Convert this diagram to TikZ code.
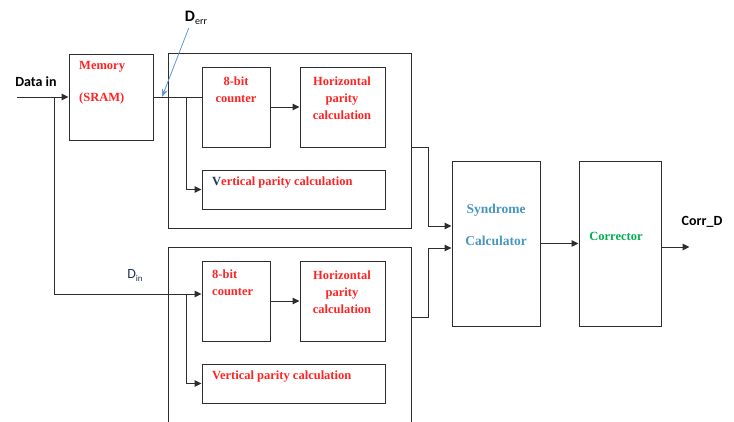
\documentclass[tikz,border=0pt]{standalone}
\usepackage{fontspec}
\setmainfont{Carlito}
\newfontfamily\boxfont{Liberation Serif}
\usetikzlibrary{arrows.meta,positioning,calc}
\definecolor{cline}{RGB}{45,45,45}
\definecolor{cred}{RGB}{255,35,35}
\definecolor{csyn}{RGB}{70,150,190}
\definecolor{ccor}{RGB}{0,176,80}
\definecolor{cerr}{RGB}{95,150,215}
\definecolor{cdin}{RGB}{35,50,80}
\definecolor{cnavy}{RGB}{31,56,100}

\begin{document}
\begin{tikzpicture}[x=1pt,y=-1pt,
    blk/.style={draw=cline,line width=1pt,inner sep=0pt},
    wire/.style={draw=cline,line width=1pt},
    arr/.style={wire,-{Triangle[length=7pt,width=6.5pt]}},
    rtxt/.style={font=\boxfont\bfseries\fontsize{12.5}{17}\selectfont,text=cred,align=center,inner sep=0pt},
    lbl/.style={font=\fontsize{14}{16}\selectfont\bfseries,inner sep=0pt}]
  \useasboundingbox (0,0) rectangle (734,421);

  % blocks
  \node[blk,minimum width=84,minimum height=86] (mem) at (111,97) {};
  \node[blk,minimum width=88,minimum height=165] (syn) at (496,243.5) {};
  \node[blk,minimum width=82,minimum height=165] (cor) at (620,243.5) {};
  \foreach \i/\y in {1/0,2/194}{
    \node[blk,minimum width=243,minimum height=175] (big\i) at (289.5,140.5+\y) {};
    \node[blk,minimum width=68,minimum height=80] (cnt\i) at (236,107+\y) {};
    \node[blk,minimum width=85,minimum height=80] (hor\i) at (342.5,107+\y) {};
    \node[blk,minimum width=183,minimum height=39] (ver\i) at (293.5,189.5+\y) {};
    \node[rtxt] at (342,98+\y) {Horizontal\\parity\\calculation};
    \draw[arr] (cnt\i.east) -- (hor\i.west);
  }

  % texts in blocks
  \node[rtxt,anchor=west] at (79,67) {Memory};
  \node[rtxt,anchor=west] at (79,98) {(SRAM)};
  \node[rtxt] at (236,89.5) {8-bit\\counter};
  \node[rtxt,align=left,anchor=west] at (212,283) {8-bit\\counter};
  \node[rtxt,anchor=west] at (212,183) {{\color{cnavy}V}ertical parity calculation};
  \node[rtxt,anchor=west] at (212,377) {Vertical parity calculation};
  \node[rtxt,text=csyn,font=\boxfont\bfseries\fontsize{13.5}{32}\selectfont] at (496,225) {Syndrome\\Calculator};
  \node[rtxt,text=ccor] at (616,236) {Corrector};

  % input side
  \coordinate (din) at (17,97);
  \coordinate (j1) at (54,97);
  \coordinate (j2) at (186,97);
  \node[lbl] (datain) at (36,82) {Data in};
  \draw[arr] (din) -- (mem.west);
  \draw[wire] (mem.east) -- (mem.east -| cnt1.west);
  \draw[arr] (j2) |- (ver1.west);
  \draw[arr] (j1) |- ($(cnt2.west)+(0,-7)$) coordinate (c2in);
  \coordinate (j3) at (c2in -| j2);
  \draw[arr] (j3) |- (ver2.west);

  % labels D
  \node[lbl,font=\fontsize{16}{18}\selectfont\bfseries] (derr) at (196,18)
    {D\raisebox{-3pt}{\fontsize{10}{10}\selectfont\mdseries err}};
  \coordinate (hit) at (162,97);
  \draw[cerr,line width=0.8pt,-{Stealth[length=8pt,width=6pt]}] ($(derr.south west)+(4,3)$) -- (hit);
  \node[lbl,text=cdin,font=\fontsize{14}{16}\selectfont] (dinl) at (135,276)
    {D\raisebox{-3pt}{\fontsize{9}{9}\selectfont in}};

  % output side
  \draw[arr] ($(big1.east)+(0,6.5)$) -- ++(17,0) |- ($(syn.west)+(0,-17.5)$);
  \draw[arr] ($(big2.east)+(0,-17.5)$) -- ++(17,0) |- ($(syn.west)+(0,4.5)$);
  \draw[arr] (syn.east) -- (cor.west);
  \draw[arr] ($(cor.east)+(0,3.5)$) -- ++(28,0) coordinate (out);
  \node[lbl] (corrd) at (702,222) {Corr\_D};
\end{tikzpicture}
\end{document}
